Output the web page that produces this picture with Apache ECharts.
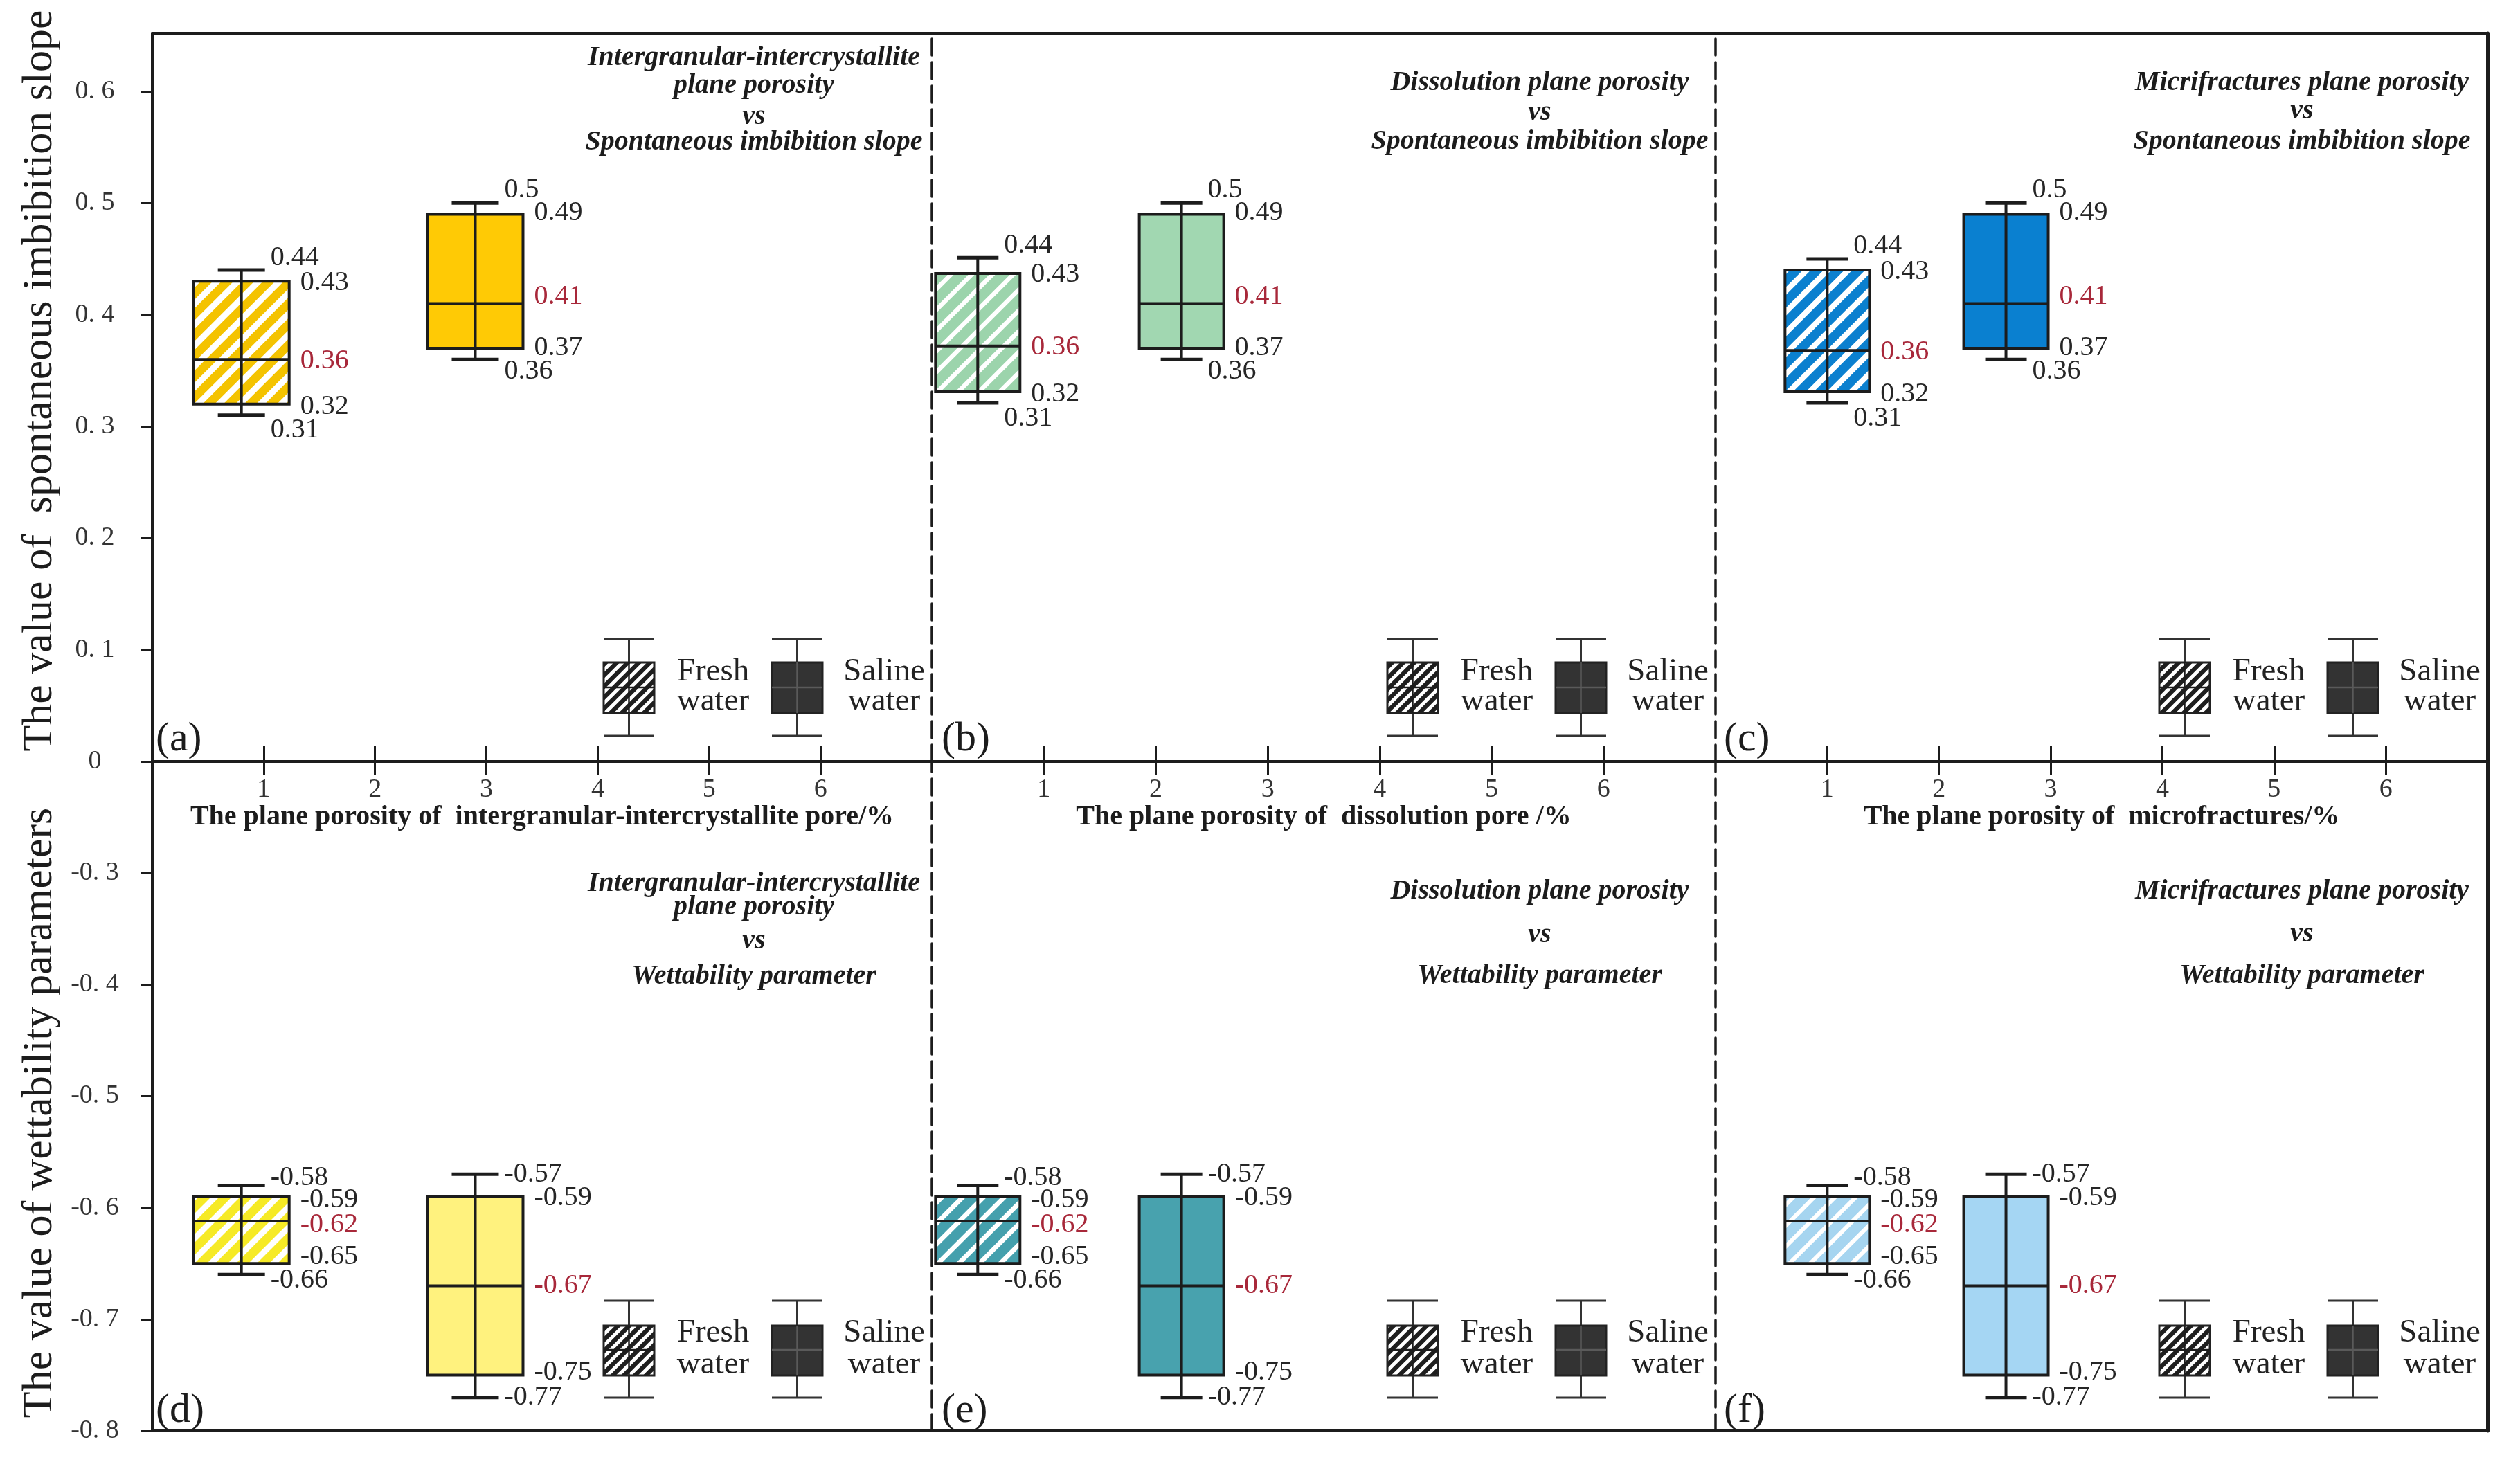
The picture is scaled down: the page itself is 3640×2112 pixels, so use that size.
<!DOCTYPE html>
<html><head><meta charset="utf-8">
<script src="https://cdn.jsdelivr.net/npm/echarts@6/dist/echarts.min.js"></script>
<style>html,body{margin:0;padding:0;background:#fff}#chart{width:3640px;height:2112px}</style>
</head><body><div id="chart"></div>
<script>
// ---------------- DATA ----------------
const boxCategories = ['Fresh water', 'Saline water'];
// x position (plane porosity, %) of the fresh / saline boxes in each column
const xPositionsA = [0.8, 2.9];
const xPositionsB = [0.41, 2.23];
const xPositionsC = [1.0, 2.6];
// box statistics: [min, Q1, median, Q3, max]
const slopeFreshA = [0.31, 0.32, 0.36, 0.43, 0.44];
const slopeSalineA = [0.36, 0.37, 0.41, 0.49, 0.50];
const slopeFreshB = [0.321, 0.331, 0.372, 0.437, 0.451];
const slopeSalineB = [0.36, 0.37, 0.41, 0.49, 0.50];
const slopeFreshC = [0.321, 0.331, 0.368, 0.44, 0.45];
const slopeSalineC = [0.36, 0.37, 0.41, 0.49, 0.50];
const wetFreshD = [-0.66, -0.65, -0.612, -0.59, -0.58];
const wetSalineD = [-0.77, -0.75, -0.67, -0.59, -0.57];
const wetFreshE = [-0.66, -0.65, -0.612, -0.59, -0.58];
const wetSalineE = [-0.77, -0.75, -0.67, -0.59, -0.57];
const wetFreshF = [-0.66, -0.65, -0.612, -0.59, -0.58];
const wetSalineF = [-0.77, -0.75, -0.67, -0.59, -0.57];
// printed value labels [min, Q1, median, Q3, max]
const slopeFreshText = ['0.31', '0.32', '0.36', '0.43', '0.44'];
const slopeSalineText = ['0.36', '0.37', '0.41', '0.49', '0.5'];
const wetFreshText = ['-0.66', '-0.65', '-0.62', '-0.59', '-0.58'];
const wetSalineText = ['-0.77', '-0.75', '-0.67', '-0.59', '-0.57'];
// ticks
const xTickValues = [1, 2, 3, 4, 5, 6];
const xTickLabels = ['1', '2', '3', '4', '5', '6'];
const slopeTickValues = [0, 0.1, 0.2, 0.3, 0.4, 0.5, 0.6];
const slopeTickLabels = ['0', '0. 1', '0. 2', '0. 3', '0. 4', '0. 5', '0. 6'];
const wetTickValues = [-0.8, -0.7, -0.6, -0.5, -0.4, -0.3];
const wetTickLabels = ['-0. 8', '-0. 7', '-0. 6', '-0. 5', '-0. 4', '-0. 3'];
// texts
const xAxisTitles = [
  'The plane porosity of  intergranular-intercrystallite pore/%',
  'The plane porosity of  dissolution pore /%',
  'The plane porosity of  microfractures/%'
];
const yTitleUpper = 'The value of  spontaneous imbibition slope';
const yTitleLower = 'The value of wettability parameters';
const panelTitleLines = [
  ['Intergranular-intercrystallite', 'plane porosity', 'vs', 'Spontaneous imbibition slope'],
  ['Dissolution plane porosity', 'vs', 'Spontaneous imbibition slope'],
  ['Micrifractures plane porosity', 'vs', 'Spontaneous imbibition slope'],
  ['Intergranular-intercrystallite', 'plane porosity', 'vs', 'Wettability parameter'],
  ['Dissolution plane porosity', 'vs', 'Wettability parameter'],
  ['Micrifractures plane porosity', 'vs', 'Wettability parameter']
];
const panelLetters = ['(a)', '(b)', '(c)', '(d)', '(e)', '(f)'];
const legendTexts = ['Fresh\nwater', 'Saline\nwater'];

// ---------------- LAYOUT / STYLE ----------------
const FONT = '"Liberation Serif", "Times New Roman", serif';
const INK = '#1c1c1c';
const FRAME_TOP = 48, MID_Y = 1100, FRAME_BOTTOM = 2067;
const colLeft = [220, 1346, 2478];
const colRight = [1346, 2478, 3593];
const colXMax = [7, 7, 6.91];
const titleCenters = [1089, 2224, 3325];
const titleLineY = [[84, 124, 169, 206], [120, 163, 205], [120, 161, 205],
                    [1277, 1311, 1360, 1411], [1288, 1351, 1410], [1288, 1350, 1410]];
const letterOffsets = [5, 14, 12];

function stripePattern(base, stripe, tile, frac) {
  const c = document.createElement('canvas');
  c.width = c.height = tile;
  const g = c.getContext('2d');
  g.fillStyle = base; g.fillRect(0, 0, tile, tile);
  g.strokeStyle = stripe; g.lineWidth = frac * tile / Math.SQRT2;
  g.beginPath();
  for (const k of [0, tile, 2 * tile]) { g.moveTo(-tile, k + tile); g.lineTo(k + tile, -tile); }
  g.stroke();
  return { image: c, repeat: 'repeat' };
}

const panels = [
  { col: 0, row: 0, xs: xPositionsA, fresh: slopeFreshA, saline: slopeSalineA, ft: slopeFreshText, st: slopeSalineText, boxW: 138, capW: 68, freshFill: stripePattern('#F4C300', '#ffffff', 30, 0.42), salineFill: '#FFCA05' },
  { col: 1, row: 0, xs: xPositionsB, fresh: slopeFreshB, saline: slopeSalineB, ft: slopeFreshText, st: slopeSalineText, boxW: 122, capW: 60, freshFill: stripePattern('#9CD4AC', '#ffffff', 30, 0.3), salineFill: '#A1D7B1' },
  { col: 2, row: 0, xs: xPositionsC, fresh: slopeFreshC, saline: slopeSalineC, ft: slopeFreshText, st: slopeSalineText, boxW: 122, capW: 60, freshFill: stripePattern('#0B80CF', '#ffffff', 30, 0.38), salineFill: '#0A80D0' },
  { col: 0, row: 1, xs: xPositionsA, fresh: wetFreshD, saline: wetSalineD, ft: wetFreshText, st: wetSalineText, boxW: 138, capW: 68, freshFill: stripePattern('#F6EA26', '#ffffff', 30, 0.4), salineFill: '#FFF27E' },
  { col: 1, row: 1, xs: xPositionsB, fresh: wetFreshE, saline: wetSalineE, ft: wetFreshText, st: wetSalineText, boxW: 122, capW: 60, freshFill: stripePattern('#45A0AD', '#ffffff', 30, 0.32), salineFill: '#48A2AE' },
  { col: 2, row: 1, xs: xPositionsC, fresh: wetFreshF, saline: wetSalineF, ft: wetFreshText, st: wetSalineText, boxW: 122, capW: 60, freshFill: stripePattern('#A6D5F0', '#ffffff', 30, 0.28), salineFill: '#A5D6F3' }
];
// label vertical offsets (px) for [min, Q1, median, Q3, max]
const labelDy = [
  [[22, 4, 2, 2, -18], [17, -1, -10, -2, -19]],
  [[8, -10, 5, 5, -11], [0, -4, 0, 2, 0]]
];

function lookup(values, labels) {
  return v => { const i = values.findIndex(t => Math.abs(t - v) < 1e-6); return i < 0 ? '' : labels[i]; };
}

const grids = [], xAxes = [], yAxes = [], series = [];
const lineStyle = { color: INK, width: 4 };
panels.forEach((p, i) => {
  const upper = p.row === 0;
  grids.push({
    left: colLeft[p.col], width: colRight[p.col] - colLeft[p.col],
    top: upper ? FRAME_TOP : MID_Y, height: upper ? MID_Y - FRAME_TOP : FRAME_BOTTOM - MID_Y,
    containLabel: false
  });
});
// main x axes (0..5)
panels.forEach((p, i) => {
  const upper = p.row === 0;
  xAxes.push({
    gridIndex: i, type: 'value', min: 0, max: colXMax[p.col],
    position: upper ? 'bottom' : 'top',
    axisLine: { show: true, onZero: false, lineStyle },
    axisTick: { show: true, inside: true, length: upper ? 22 : 19, customValues: xTickValues, lineStyle: { color: INK, width: 3 } },
    axisLabel: upper ? { show: true, customValues: xTickValues, formatter: lookup(xTickValues, xTickLabels), margin: 22, fontFamily: FONT, fontSize: 38, color: '#333' } : { show: false },
    splitLine: { show: false },
    name: upper ? xAxisTitles[p.col] : '', nameLocation: 'middle', nameGap: 52,
    nameTextStyle: { fontFamily: FONT, fontWeight: 'bold', fontSize: 40, color: INK }
  });
});
// frame x axes (6..11)
panels.forEach((p, i) => {
  const upper = p.row === 0;
  xAxes.push({
    gridIndex: i, type: 'value', min: 0, max: colXMax[p.col],
    position: upper ? 'top' : 'bottom',
    axisLine: { show: true, onZero: false, lineStyle },
    axisTick: { show: false }, axisLabel: { show: false }, splitLine: { show: false }
  });
});
// main y axes (0..5)
panels.forEach((p, i) => {
  const upper = p.row === 0;
  const first = p.col === 0;
  const vals = upper ? slopeTickValues : wetTickValues;
  const labs = upper ? slopeTickLabels : wetTickLabels;
  yAxes.push({
    gridIndex: i, type: 'value',
    min: upper ? 0 : -0.8, max: upper ? 0.652 : -0.2,
    position: 'left',
    axisLine: { show: true, onZero: false, lineStyle: first ? lineStyle : { color: INK, width: 3.5, type: [24, 10] } },
    axisTick: { show: first, inside: false, length: 16, customValues: vals, lineStyle: { color: INK, width: 3 } },
    axisLabel: first ? { show: true, customValues: vals, formatter: lookup(vals, labs), align: 'center', margin: 83, fontFamily: FONT, fontSize: 38, color: '#333' } : { show: false },
    splitLine: { show: false },
    name: first ? (upper ? yTitleUpper : yTitleLower) : '',
    nameLocation: 'middle', nameRotate: 90, nameGap: 162,
    nameTextStyle: { fontFamily: FONT, fontSize: 62, color: INK, align: 'center', verticalAlign: 'middle',
      padding: upper ? [0, 0, 0, 48] : [0, 48, 0, 0] }
  });
});
// right frame axes
[2, 5].forEach(i => {
  const upper = panels[i].row === 0;
  yAxes.push({
    gridIndex: i, type: 'value', min: upper ? 0 : -0.8, max: upper ? 0.652 : -0.2, position: 'right',
    axisLine: { show: true, onZero: false, lineStyle: { color: INK, width: 5 } },
    axisTick: { show: false }, axisLabel: { show: false }, splitLine: { show: false }
  });
});

// box series
panels.forEach((p, i) => {
  const data = [[p.xs[0], ...p.fresh], [p.xs[1], ...p.saline]];
  series.push({
    type: 'custom', name: 'panel ' + panelLetters[i],
    xAxisIndex: i, yAxisIndex: i, clip: false, z: 10,
    encode: { x: 0, y: [1, 2, 3, 4, 5] },
    data,
    renderItem: (params, api) => {
      const k = params.dataIndex;
      const x = api.value(0);
      const v = [1, 2, 3, 4, 5].map(d => api.value(d));
      const cx = api.coord([x, v[2]])[0];
      const y = v.map(val => api.coord([x, val])[1]);
      const hw = p.boxW / 2, cw = p.capW / 2;
      const left = cx - hw, right = cx + hw;
      const children = [
        { type: 'rect', shape: { x: left, y: y[3], width: p.boxW, height: y[1] - y[3] },
          style: { fill: k === 0 ? p.freshFill : p.salineFill, stroke: INK, lineWidth: 4 } },
        { type: 'line', shape: { x1: cx, y1: y[4], x2: cx, y2: y[0] }, style: { stroke: INK, lineWidth: 4 } },
        { type: 'line', shape: { x1: left, y1: y[2], x2: right, y2: y[2] }, style: { stroke: INK, lineWidth: 4 } },
        { type: 'line', shape: { x1: cx - cw, y1: y[4], x2: cx + cw, y2: y[4] }, style: { stroke: INK, lineWidth: 5 } },
        { type: 'line', shape: { x1: cx - cw, y1: y[0], x2: cx + cw, y2: y[0] }, style: { stroke: INK, lineWidth: 5 } }
      ];
      const texts = k === 0 ? p.ft : p.st;
      const dys = labelDy[p.row][k];
      for (let j = 0; j < 5; j++) {
        const atCap = j === 0 || j === 4;
        children.push({
          type: 'text',
          x: atCap ? cx + cw + 8 : right + 16,
          y: y[j] + dys[j],
          style: { text: texts[j], fill: j === 2 ? '#A8283A' : '#262626', fontFamily: FONT, fontSize: 40, align: 'left', verticalAlign: 'middle' }
        });
      }
      return { type: 'group', children };
    }
  });
});

// graphics: titles, letters, legends
const graphic = [];
panels.forEach((p, i) => {
  panelTitleLines[i].forEach((line, j) => {
    graphic.push({ type: 'text', x: titleCenters[p.col], y: titleLineY[i][j], z: 20,
      style: { text: line, fill: INK, fontFamily: FONT, fontStyle: 'italic', fontWeight: 'bold', fontSize: 40, align: 'center', verticalAlign: 'middle' } });
  });
  graphic.push({ type: 'text', x: colLeft[p.col] + letterOffsets[p.col], y: p.row === 0 ? 1068 : 2038, z: 20,
    style: { text: panelLetters[i], fill: INK, fontFamily: FONT, fontSize: 60, align: 'left', verticalAlign: 'middle' } });
  // legend
  const R = colRight[p.col];
  const ref = p.row === 0 ? MID_Y : FRAME_BOTTOM;
  const o = p.row === 0
    ? { capT: -177, capB: -37, boxT: -143, boxB: -70, med: -107, txt: -107.5, lh: 43 }
    : { capT: -188, capB: -48, boxT: -152, boxB: -80, med: -117, txt: -118, lh: 46 };
  const iconW = 73;
  [{ left: R - 474, fill: stripePattern('#1e1e1e', '#ffffff', 16, 0.45), inner: INK, txtX: R - 316 },
   { left: R - 231, fill: '#333333', inner: '#5a5a5a', txtX: R - 69 }].forEach((ic, n) => {
    const cx = ic.left + iconW / 2;
    graphic.push({ type: 'line', z: 20, shape: { x1: cx, y1: ref + o.capT, x2: cx, y2: ref + o.capB }, style: { stroke: '#333', lineWidth: 3 } });
    graphic.push({ type: 'line', z: 20, shape: { x1: ic.left, y1: ref + o.capT, x2: ic.left + iconW, y2: ref + o.capT }, style: { stroke: '#333', lineWidth: 3 } });
    graphic.push({ type: 'line', z: 20, shape: { x1: ic.left, y1: ref + o.capB, x2: ic.left + iconW, y2: ref + o.capB }, style: { stroke: '#333', lineWidth: 3 } });
    graphic.push({ type: 'rect', z: 21, shape: { x: ic.left, y: ref + o.boxT, width: iconW, height: o.boxB - o.boxT }, style: { fill: ic.fill, stroke: '#222', lineWidth: 3 } });
    graphic.push({ type: 'line', z: 22, shape: { x1: cx, y1: ref + o.boxT, x2: cx, y2: ref + o.boxB }, style: { stroke: ic.inner, lineWidth: 2.5 } });
    graphic.push({ type: 'line', z: 22, shape: { x1: ic.left, y1: ref + o.med, x2: ic.left + iconW, y2: ref + o.med }, style: { stroke: ic.inner, lineWidth: 2.5 } });
    graphic.push({ type: 'text', z: 20, x: ic.txtX, y: ref + o.txt,
      style: { text: legendTexts[n], fill: '#222', fontFamily: FONT, fontSize: 47, lineHeight: o.lh, align: 'center', verticalAlign: 'middle' } });
  });
});

const chart = echarts.init(document.getElementById('chart'), null, { renderer: 'canvas' });
chart.setOption({
  backgroundColor: '#ffffff',
  animation: false,
  grid: grids,
  xAxis: xAxes,
  yAxis: yAxes,
  series,
  graphic
});
</script>
</body></html>
